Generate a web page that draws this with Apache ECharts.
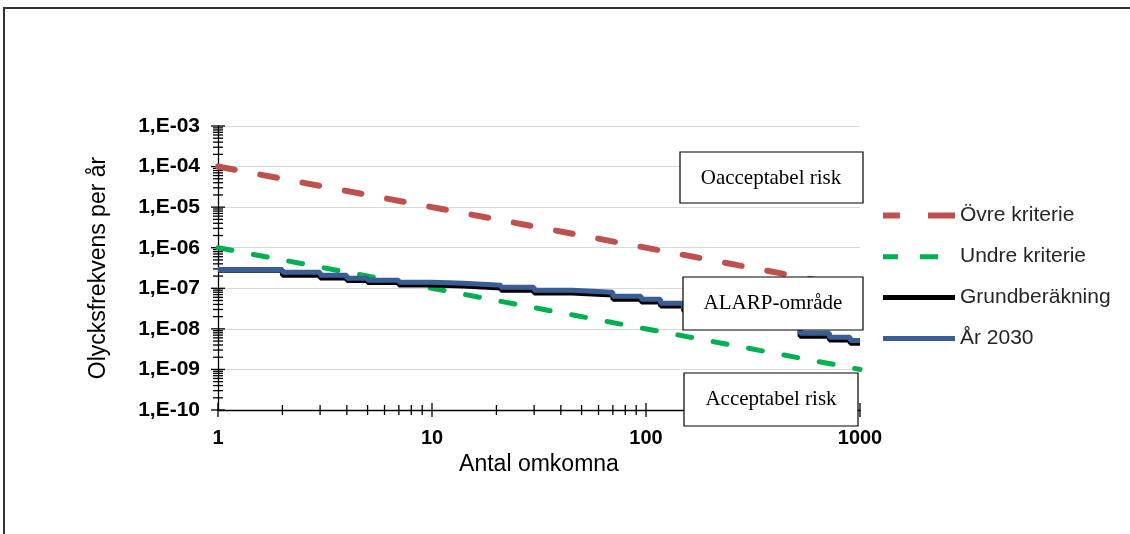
<!DOCTYPE html>
<html>
<head>
<meta charset="utf-8">
<script src="https://cdn.jsdelivr.net/npm/echarts@6/dist/echarts.min.js"></script>
<style>
  html, body { margin: 0; padding: 0; background: #fff; }
  #chart { width: 1130px; height: 534px; }
</style>
</head>
<body>
<div id="chart"></div>
<script>
// Antal omkomna (step positions) and frequencies per year
var nValues = [1, 2, 3, 4, 5, 7, 10, 14, 21, 30, 45, 70, 95, 117, 150, 200, 270, 360, 525, 720, 900, 1000];
var grundValues = [2.8e-7, 2.1e-7, 1.8e-7, 1.55e-7, 1.38e-7, 1.2e-7, 1.14e-7, 1.02e-7, 9.0e-8, 7.6e-8, 6.8e-8, 5.4e-8, 4.6e-8, 3.65e-8, 2.75e-8, 2.08e-8, 1.57e-8, 1.12e-8, 6.6e-9, 5.3e-9, 4.4e-9, 4.4e-9];
var ar2030Values = [2.9e-7, 2.48e-7, 2.09e-7, 1.76e-7, 1.57e-7, 1.4e-7, 1.33e-7, 1.19e-7, 1.06e-7, 8.9e-8, 7.97e-8, 6.35e-8, 5.36e-8, 4.27e-8, 3.2e-8, 2.42e-8, 1.83e-8, 1.3e-8, 7.8e-9, 6.2e-9, 5.2e-9, 5.2e-9];

// criteria lines
var criteriaN = [1, 1000];
var ovreValues = [1e-4, 1e-7];
var undreValues = [1e-6, 1e-9];

// axis decades
var xDecades = [1, 10, 100, 1000];
var yDecades = [1e-10, 1e-9, 1e-8, 1e-7, 1e-6, 1e-5, 1e-4, 1e-3];

var seriesNames = ['Övre kriterie', 'Undre kriterie', 'Grundberäkning', 'År 2030'];
var boxTexts = ['Oacceptabel risk', 'ALARP-område', 'Acceptabel risk'];

function pairs(xs, ys) {
  return xs.map(function (x, i) { return [x, ys[i]]; });
}

// tick marks crossing the axes (Excel style), major + log minor
var tickData = [];
xDecades.forEach(function (d, i) {
  tickData.push([d, 1e-10, 0]);
  if (i < xDecades.length - 1) {
    for (var k = 2; k <= 9; k++) tickData.push([d * k, 1e-10, 1]);
  }
});
yDecades.forEach(function (d, i) {
  tickData.push([1, d, 2]);
  if (i < yDecades.length - 1) {
    for (var k = 2; k <= 9; k++) tickData.push([1, d * k, 3]);
  }
});

var chart = echarts.init(document.getElementById('chart'));

var sans = '"Liberation Sans", Arial, sans-serif';
var serif = '"Liberation Serif", "Times New Roman", serif';

// legend icons: dashed / solid strokes (tiny square keeps the box 72 wide)
var iconDashRed = 'path://M0,0h17v6h-17zM45,0h27v6h-27z';
var iconDashGreen = 'path://M0,0.5h15v5h-15zM37,0.5h18v5h-18zM71.99,0h0.01v0.01h-0.01z';
var iconSolid = 'path://M0,0.5h72v5h-72z';

var option = {
  animation: false,
  backgroundColor: '#fff',
  grid: { left: 218, right: 270, top: 126, bottom: 124 },
  legend: {
    orient: 'vertical',
    left: 878,
    top: 200,
    itemWidth: 72,
    itemHeight: 6,
    itemGap: 20,
    itemStyle: { borderWidth: 0 },
    textStyle: { fontFamily: sans, fontSize: 21, color: '#262626' },
    data: [
      { name: seriesNames[0], icon: iconDashRed },
      { name: seriesNames[1], icon: iconDashGreen },
      { name: seriesNames[2], icon: iconSolid },
      { name: seriesNames[3], icon: iconSolid }
    ]
  },
  xAxis: {
    type: 'log',
    logBase: 10,
    min: 1,
    max: 1000,
    name: 'Antal omkomna',
    nameLocation: 'middle',
    nameGap: 42,
    nameTextStyle: { fontFamily: sans, fontSize: 23, color: '#000' },
    axisLine: { lineStyle: { color: '#000', width: 1.3 } },
    axisTick: { show: false },
    splitLine: { show: false },
    axisLabel: {
      margin: 18,
      fontFamily: sans,
      fontSize: 20,
      fontWeight: 'bold',
      color: '#000',
      formatter: function (v) { return String(Math.round(v)); }
    }
  },
  yAxis: {
    type: 'log',
    logBase: 10,
    min: 1e-10,
    max: 1e-3,
    name: 'Olycksfrekvens per år',
    nameLocation: 'middle',
    nameRotate: 90,
    nameGap: 108,
    nameTextStyle: { fontFamily: sans, fontSize: 23, color: '#000' },
    axisLine: { show: true, lineStyle: { color: '#000', width: 1.3 } },
    axisTick: { show: false },
    splitLine: { show: true, lineStyle: { color: '#d9d9d9', width: 1 } },
    axisLabel: {
      margin: 18,
      fontFamily: sans,
      fontSize: 21,
      fontWeight: 'bold',
      color: '#000',
      formatter: function (v) {
        var e = Math.round(Math.log10(v));
        return '1,E-' + String(-e).padStart(2, '0');
      }
    }
  },
  series: [
    {
      name: 'ticks',
      type: 'custom',
      silent: true,
      clip: false,
      z: 1,
      data: tickData,
      renderItem: function (params, api) {
        var p = api.coord([api.value(0), api.value(1)]);
        var kind = api.value(2);
        var shape;
        if (kind < 2) {
          var h = kind === 0 ? 7 : 5;
          shape = { x1: p[0], y1: p[1] - h, x2: p[0], y2: p[1] + h };
        } else {
          var w = kind === 2 ? 7 : 5;
          shape = { x1: p[0] - w, y1: p[1], x2: p[0] + w, y2: p[1] };
        }
        return { type: 'line', shape: shape, style: { stroke: '#000', lineWidth: 1.3 } };
      }
    },
    {
      name: seriesNames[0],
      type: 'line',
      showSymbol: false,
      symbol: 'none',
      color: '#c0504d',
      lineStyle: { width: 6, type: [17, 26], cap: 'round', color: '#c0504d' },
      data: pairs(criteriaN, ovreValues)
    },
    {
      name: seriesNames[1],
      type: 'line',
      showSymbol: false,
      symbol: 'none',
      color: '#00b050',
      lineStyle: { width: 5, type: [14, 22], cap: 'round', color: '#00b050' },
      data: pairs(criteriaN, undreValues)
    },
    {
      name: seriesNames[2],
      type: 'line',
      step: 'end',
      showSymbol: false,
      symbol: 'none',
      color: '#000',
      lineStyle: { width: 5, color: '#000' },
      data: pairs(nValues, grundValues)
    },
    {
      name: seriesNames[3],
      type: 'line',
      step: 'end',
      showSymbol: false,
      symbol: 'none',
      color: '#3a5d96',
      lineStyle: { width: 5, color: '#3a5d96' },
      data: pairs(nValues, ar2030Values)
    }
  ],
  graphic: [
    { type: 'line', shape: { x1: 3, y1: 8, x2: 1130, y2: 8 }, style: { stroke: '#333', lineWidth: 2 }, z: 200 },
    { type: 'line', shape: { x1: 4, y1: 8, x2: 4, y2: 534 }, style: { stroke: '#333', lineWidth: 2 }, z: 200 },

    { type: 'rect', shape: { x: 680, y: 152, width: 183, height: 51 }, style: { fill: '#fff', stroke: '#000', lineWidth: 1.2 }, z: 100 },
    { type: 'text', style: { x: 771, y: 178, text: boxTexts[0], font: '21px ' + serif, fill: '#000', align: 'center', verticalAlign: 'middle' }, z: 101 },

    { type: 'rect', shape: { x: 683, y: 277, width: 180, height: 53 }, style: { fill: '#fff', stroke: '#000', lineWidth: 1.2 }, z: 100 },
    { type: 'text', style: { x: 773, y: 303, text: boxTexts[1], font: '21px ' + serif, fill: '#000', align: 'center', verticalAlign: 'middle' }, z: 101 },

    { type: 'rect', shape: { x: 684, y: 373, width: 174, height: 53 }, style: { fill: '#fff', stroke: '#000', lineWidth: 1.2 }, z: 100 },
    { type: 'text', style: { x: 771, y: 399, text: boxTexts[2], font: '21px ' + serif, fill: '#000', align: 'center', verticalAlign: 'middle' }, z: 101 }
  ]
};

chart.setOption(option);
</script>
</body>
</html>
